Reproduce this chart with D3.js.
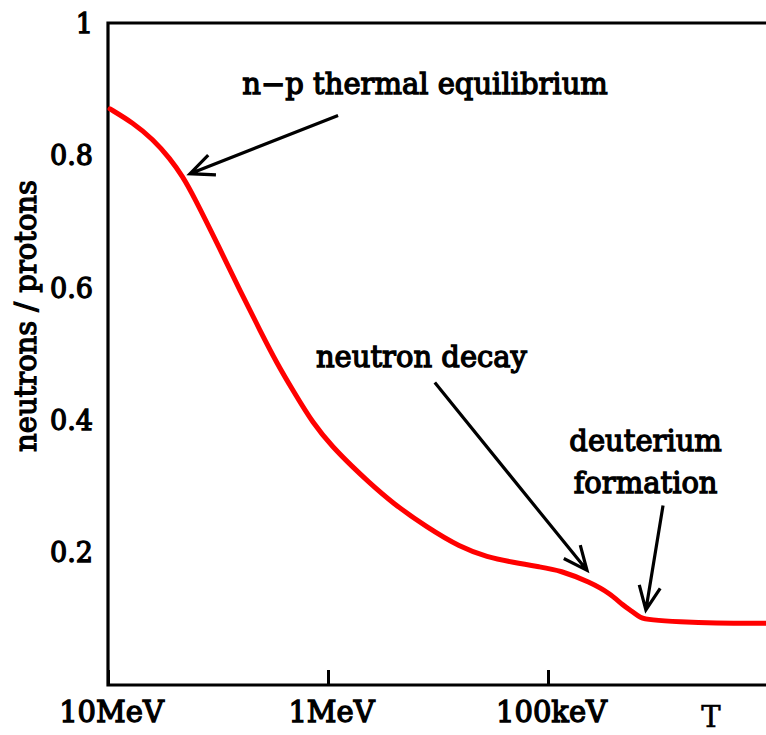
<!DOCTYPE html>
<html>
<head>
<meta charset="utf-8">
<script src="https://cdn.jsdelivr.net/npm/d3@7"></script>
<style>
  body { margin: 0; background: #fff; }
  svg { display: block; }
</style>
</head>
<body>
<div id="viz"></div>
<script>
"use strict";

// temperature in keV (x goes from hot to cold) and n/p ratio
const temperature = [9790, 7697, 6245, 5226, 4562, 4108, 3097, 2512, 2037, 1706, 1442, 1170, 949, 770,
                     665, 506, 355, 251, 189, 144, 108.7, 88.2, 64.4, 52.3, 45.6, 41.1, 38.2,
                     34.4, 25.1, 17.8, 10.2];
const ratio = [0.870, 0.849, 0.824, 0.795, 0.767, 0.740, 0.658, 0.595, 0.535, 0.485, 0.444, 0.394, 0.358, 0.328,
               0.308, 0.273, 0.237, 0.207, 0.192, 0.184, 0.177, 0.172, 0.154, 0.137, 0.119, 0.109, 0.100,
               0.097, 0.094, 0.092, 0.092];

const xTicks = [10000, 1000, 100];
const xTickLabels = ["10MeV", "1MeV", "100keV"];
const yTicks = [0.2, 0.4, 0.6, 0.8, 1];
const yTickLabels = ["0.2", "0.4", "0.6", "0.8", "1"];

// annotations, in data units
const noteText = [["n\u2212p thermal equilibrium"], ["neutron decay"], ["deuterium", "formation"]];
const noteAt = [[362, 0.893], [376, 0.479], [36, 0.353]];
const arrowFrom = [[900, 0.860], [327, 0.456], [30, 0.270]];
const arrowTo = [[4240, 0.772], [66.5, 0.172], [35.9, 0.112]];

function initChart() {
    let width = 766;
    let height = 735;
    let left = 108, right = 768, top = 23, bottom = 684;

    let xScale = d3.scaleLog()
                   .domain([10000, 10])
                   .range([left, right]);

    let yScale = d3.scaleLinear()
                   .domain([0, 1])
                   .range([bottom, top]);

    let svg = d3.select('#viz')
                .append('svg')
                .attr('width', width)
                .attr('height', height)
                .style('background', '#fff');

    let serif = "'DejaVu Serif', 'Liberation Serif', serif";

    // regular face thickened a little, the original looks semi-bold
    function semiBold(sel, size) {
        sel.attr('fill', '#000')
           .style('stroke', '#000')
           .style('stroke-width', '1.3px')
           .style('font-family', serif)
           .style('font-size', size + 'px');
    }

    // frame: left, bottom, top
    svg.append('path')
       .attr('d', `M${width},${yScale(1)}H${xScale(10000)}V${yScale(0) + 1}H${width}`)
       .attr('fill', 'none')
       .attr('stroke', '#000')
       .attr('stroke-width', 3.2);

    // x axis
    let xAxis = svg.append('g')
       .attr('transform', `translate(0,${yScale(0) + 1})`)
       .call(d3.axisBottom(xScale)
               .tickValues(xTicks)
               .tickSize(-15)
               .tickFormat((d, i) => xTickLabels[i]));
    xAxis.select('.domain').remove();
    xAxis.selectAll('line').attr('stroke', '#000').attr('stroke-width', 3);
    xAxis.selectAll('text')
         .attr('y', 37)
         .attr('dy', 0)
         .attr('dx', 3)
         .call(semiBold, 29);

    // y axis
    let yAxis = svg.append('g')
       .attr('transform', `translate(${xScale(10000)},0)`)
       .call(d3.axisLeft(yScale)
               .tickValues(yTicks)
               .tickSize(0)
               .tickFormat((d, i) => yTickLabels[i]));
    yAxis.select('.domain').remove();
    yAxis.selectAll('text')
         .attr('x', -15)
         .attr('dy', '0.36em')
         .call(semiBold, 27);

    svg.append('text')
       .attr('transform', `translate(36,316) rotate(-90)`)
       .attr('text-anchor', 'middle')
       .call(semiBold, 29)
       .text('neutrons / protons');

    svg.append('text')
       .attr('x', 711)
       .attr('y', 727)
       .attr('text-anchor', 'middle')
       .style('font-family', serif)
       .style('font-size', '29px')
       .style('stroke', '#000')
       .style('stroke-width', '0.6px')
       .text('T');

    // the curve
    let pts = temperature.map((t, i) => [xScale(t), yScale(ratio[i])]);
    svg.append('path')
       .datum(pts)
       .attr('d', d3.line().curve(d3.curveBasis))
       .attr('fill', 'none')
       .attr('stroke', '#ff0000')
       .attr('stroke-width', 5)
       .attr('stroke-linecap', 'round');

    // annotations
    noteText.forEach((lines, i) => {
        let t = svg.append('text')
           .attr('text-anchor', 'middle')
           .call(semiBold, 29);
        lines.forEach((s, j) => {
            t.append('tspan')
             .attr('x', xScale(noteAt[i][0]))
             .attr('y', yScale(noteAt[i][1]) + j * 42)
             .text(s);
        });
    });

    arrowFrom.forEach((a, i) => {
        let x1 = xScale(a[0]), y1 = yScale(a[1]);
        let x2 = xScale(arrowTo[i][0]), y2 = yScale(arrowTo[i][1]);
        let ang = Math.atan2(y2 - y1, x2 - x1);
        let len = 26, spread = 0.42;
        let b1 = [x2 - len * Math.cos(ang - spread), y2 - len * Math.sin(ang - spread)];
        let b2 = [x2 - len * Math.cos(ang + spread), y2 - len * Math.sin(ang + spread)];
        svg.append('path')
           .attr('d', `M${x1},${y1}L${x2},${y2}M${b1}L${x2},${y2}L${b2}`)
           .attr('fill', 'none')
           .attr('stroke', '#000')
           .attr('stroke-width', 3.2)
           .attr('stroke-linejoin', 'miter');
    });
}

initChart();
</script>
</body>
</html>
